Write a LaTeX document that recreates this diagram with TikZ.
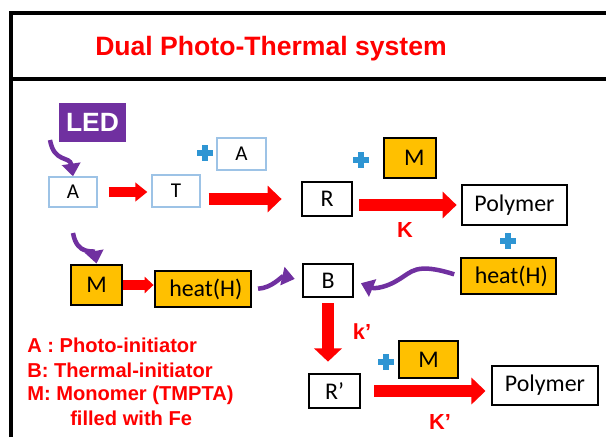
\documentclass[tikz,border=0pt]{standalone}
\usepackage{fontspec}
\setmainfont{Carlito}
\newfontfamily\labelfont{Liberation Sans}
\usetikzlibrary{arrows.meta}
\definecolor{ledpurple}{HTML}{7030A0}
\definecolor{monoorange}{HTML}{FFC000}
\definecolor{plusblue}{HTML}{2E95D3}
\definecolor{paleblue}{HTML}{9DC3E6}

\begin{document}
\begin{tikzpicture}[
  x=0.025cm, y=-0.025cm,
  box/.style={draw, line width=2pt, inner sep=0pt, font=\fontsize{17}{17}\selectfont},
  palebox/.style={draw=paleblue, line width=1pt, inner sep=0pt, font=\fontsize{15}{15}\selectfont},
  monobox/.style={box, fill=monoorange},
  redlabel/.style={text=red, font=\labelfont\bfseries\fontsize{15.5}{15.5}\selectfont},
  legend/.style={anchor=west, inner sep=0pt, text=red, font=\labelfont\bfseries\fontsize{14.3}{14.3}\selectfont},
  thinarrow/.style={red, line width=7.1pt, -{Triangle[length=8.5pt,width=13pt]}},
  thickarrow/.style={red, line width=9.2pt, -{Triangle[length=10pt,width=18.5pt]}},
  lightarrow/.style={ledpurple, line width=3.2pt, -{Triangle[length=9pt,width=13pt]}},
  plus/.style={plusblue, line width=4pt}
]
\useasboundingbox (0,0) rectangle (606,437);
% frame
\draw[line width=2.2pt] (11,437) -- (11,13) -- (606,13);
\draw[line width=2.2pt] (11,79) -- (606,79);
\node[text=red, font=\labelfont\bfseries\fontsize{18.9}{18.9}\selectfont] (title) at (271,49) {Dual Photo-Thermal system};

% photo side
\node[fill=ledpurple, text=white, inner sep=0pt, minimum width=1.675cm, minimum height=0.975cm,
  font=\labelfont\bfseries\fontsize{18.8}{18.8}\selectfont] (led) at (92.5,122.5) {LED};
\node[palebox, minimum width=1.2cm, minimum height=0.75cm] (a) at (73,192) {A};
\node[palebox, minimum width=1.2cm, minimum height=0.8cm] (t) at (176,191) {T};
\node[palebox, minimum width=1.225cm, minimum height=0.8cm] (atop) at (241.5,154) {A};
\node[box, minimum width=1.25cm, minimum height=0.85cm] (r) at (327,199) {R};
\node[monobox, minimum width=1.3cm, minimum height=1cm] (mtop) at (410,158) {\hspace{6pt}M};
\node[box, minimum width=2.625cm, minimum height=1cm] (poly) at (514.5,205) {Polymer};
\node[redlabel] (k) at (405,230) {K};
\coordinate (ledout) at (50,140);
\draw[lightarrow] (ledout) .. controls (54,163) and (70,156) .. (a.north);
\draw[thinarrow, shorten <=7.8pt, shorten >=2.8pt] (a.east) -- (a.east -| t.west);
\draw[thickarrow, shorten <=5.7pt, shorten >=13.5pt] (r.west -| t.east) -- (r.west);
\draw[thickarrow, shorten <=4.3pt, shorten >=2.8pt] (poly.west -| r.east) -- (poly.west);
\draw[plus] (205,153) +(-8,0) -- +(8,0) +(0,-8) -- +(0,8);
\draw[plus] (361,160) +(-8,0) -- +(8,0) +(0,-8) -- +(0,8);
\draw[plus] (508,241) +(-8,0) -- +(8,0) +(0,-8) -- +(0,8);

% thermal side
\node[monobox, minimum width=1.275cm, minimum height=1cm] (mleft) at (96.5,285) {M};
\node[monobox, minimum width=2.4cm, minimum height=0.9cm] (heatl) at (203,289) {\hspace{4pt}heat(H)};
\node[monobox, minimum width=2.375cm, minimum height=0.9cm] (heatr) at (508.5,276) {\hspace{4pt}heat(H)};
\node[box, minimum width=1.25cm, minimum height=0.825cm] (b) at (328,280.5) {B};
\node[box, minimum width=1.275cm, minimum height=0.85cm] (rp) at (334.5,391) {R’};
\node[monobox, minimum width=1.475cm, minimum height=0.925cm] (mbot) at (428.5,359.5) {M};
\node[box, minimum width=2.65cm, minimum height=0.975cm] (polyb) at (545,385.5) {Polymer};
\node[redlabel] (kb) at (362,332) {k’};
\node[redlabel] (kp) at (440,422) {K’};
\coordinate (aout) at (73,233);
\draw[lightarrow] (aout) .. controls (77,256) and (94,250) .. (mleft.north);
\draw[red, line width=7.1pt, -{Triangle[length=6.4pt,width=11.5pt]}] (mleft.east) -- (mleft.east -| heatl.west);
\draw[lightarrow, shorten <=4pt, shorten >=5pt] (heatl.east) .. controls (272,288) and (282,276) .. (b.west);
\draw[lightarrow, shorten <=4pt, shorten >=5pt] (heatr.west) .. controls (415,262) and (412,272) .. (398,280)
  .. controls (387,287) and (375,289) .. (b.east);
\draw[thickarrow, -{Triangle[length=9.5pt,width=19.5pt]}, shorten <=3.6pt, shorten >=7.8pt] (b.south) -- (b.south |- rp.north);
\draw[thickarrow, shorten <=9.2pt, shorten >=3.6pt] (rp.east) -- (rp.east -| polyb.west);
\draw[plus] (386,362) +(-8,0) -- +(8,0) +(0,-8) -- +(0,8);

% legend
\node[legend] (lega) at (27,345) {A : Photo-initiator};
\node[legend] (legb) at (27,370) {B: Thermal-initiator};
\node[legend] (legm) at (27,395) {M: Monomer (TMPTA)};
\node[legend] (legfe) at (70,418) {filled with Fe};
\end{tikzpicture}
\end{document}
